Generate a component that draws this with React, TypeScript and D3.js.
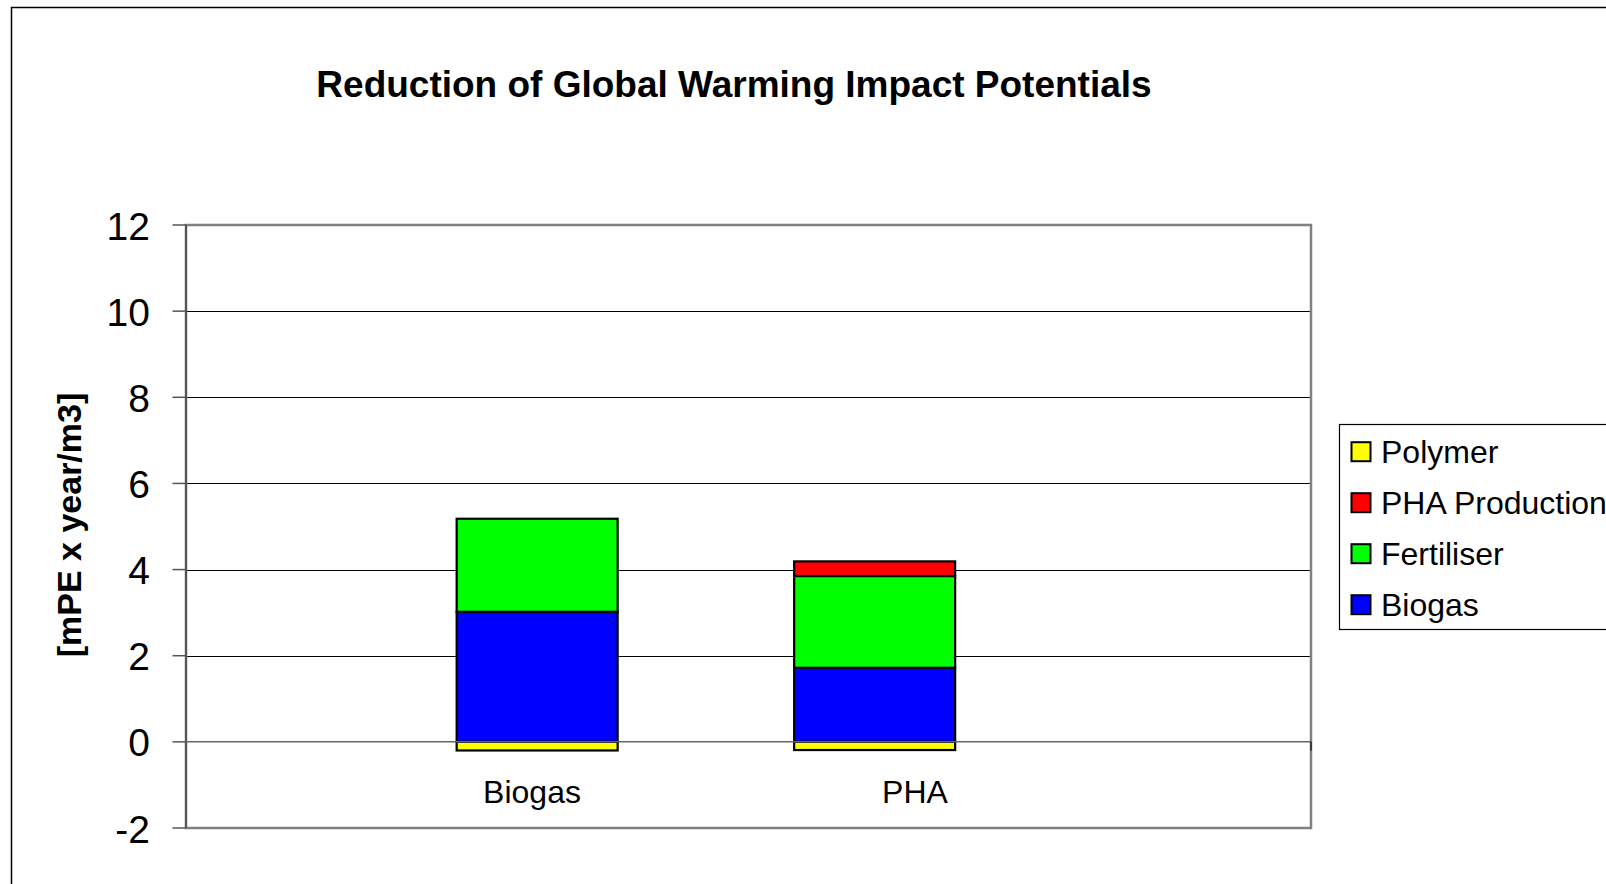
import React from "react";
import * as d3 from "d3";

// Categories on the x axis
const categories = ["Biogas", "PHA"];

// Series (stacking order from the zero line outward)
const seriesKeys = ["Biogas", "Fertiliser", "PHA Production", "Polymer"];

// Values per series, one entry per category
const biogasValues = [3.02, 1.72];
const fertiliserValues = [2.16, 2.13];
const phaProductionValues = [0, 0.34];
const polymerValues = [-0.2, -0.19];

// Y axis ticks
const yTicks = [-2, 0, 2, 4, 6, 8, 10, 12];

// Legend order (top to bottom)
const legendOrder = ["Polymer", "PHA Production", "Fertiliser", "Biogas"];

const colors: Record<string, string> = {
  Biogas: "#0000ff",
  Fertiliser: "#00ff00",
  "PHA Production": "#ff0000",
  Polymer: "#ffff00",
};

const W = 1606;
const H = 884;
const FONT = "'Liberation Sans', Arial, Helvetica, sans-serif";

const plot = { left: 186, right: 1311, top: 225, bottom: 828 };

export default function App() {
  const rows = categories.map((c, i) => ({
    category: c,
    Biogas: biogasValues[i],
    Fertiliser: fertiliserValues[i],
    "PHA Production": phaProductionValues[i],
    Polymer: polymerValues[i],
  }));

  const stacked = d3
    .stack<any>()
    .keys(seriesKeys)
    .offset(d3.stackOffsetDiverging)(rows);

  const y = d3.scaleLinear().domain([-2, 12]).range([plot.bottom, plot.top]);

  // label positions
  const xLabel = d3.scaleBand<string>().domain(categories).range([340.5, 1106.5]);
  // bar positions
  const xBar = d3
    .scaleBand<string>()
    .domain(categories)
    .range([368.4, 1043.4])
    .paddingInner(0.523)
    .paddingOuter(0.2615);

  const legend = { x: 1339.5, y: 424.5, h: 205, rowStep: 51 };

  return (
    <svg
      width={W}
      height={H}
      style={{ position: "absolute", left: 0, top: 0, background: "#fff" }}
      fontFamily={FONT}
    >
      <rect x={0} y={0} width={W} height={H} fill="#fff" />
      {/* chart frame */}
      <rect x={11.5} y={7.5} width={W + 20} height={H + 20} fill="#fff" stroke="#000" strokeWidth={1.5} />

      {/* title */}
      <text x={734} y={96.5} textAnchor="middle" fontSize={37} fontWeight="bold" fill="#000">
        Reduction of Global Warming Impact Potentials
      </text>

      {/* plot area */}
      <rect
        x={plot.left}
        y={plot.top}
        width={plot.right - plot.left}
        height={plot.bottom - plot.top}
        fill="#fff"
      />

      {/* gridlines */}
      {yTicks
        .filter((t) => t !== 0 && t !== -2 && t !== 12)
        .map((t) => (
          <line
            key={"g" + t}
            x1={plot.left}
            x2={plot.right}
            y1={Math.round(y(t)) + 0.5}
            y2={Math.round(y(t)) + 0.5}
            stroke="#000"
            strokeWidth={1}
          />
        ))}

      {/* plot border */}
      <rect
        x={plot.left}
        y={plot.top}
        width={plot.right - plot.left}
        height={plot.bottom - plot.top}
        fill="none"
        stroke="#808080"
        strokeWidth={2.5}
      />

      {/* y axis line and ticks */}
      <line x1={plot.left} x2={plot.left} y1={plot.top} y2={plot.bottom} stroke="#555" strokeWidth={2} />
      {yTicks.map((t) => (
        <g key={"t" + t}>
          <line x1={172.5} x2={plot.left} y1={y(t)} y2={y(t)} stroke="#555" strokeWidth={1.5} />
          <text x={150} y={y(t) + 14.5} textAnchor="end" fontSize={39} fill="#000">
            {t}
          </text>
        </g>
      ))}

      {/* bars */}
      {stacked.map((s) => (
        <g key={s.key} fill={colors[s.key]} stroke="#000" strokeWidth={2.2}>
          {s.map((d, i) => {
            const y0 = y(d[0]);
            const y1 = y(d[1]);
            const h = Math.abs(y0 - y1);
            if (h < 0.01) return null;
            return (
              <rect
                key={i}
                x={xBar(categories[i])!}
                y={Math.min(y0, y1)}
                width={xBar.bandwidth()}
                height={h}
              />
            );
          })}
        </g>
      ))}

      {/* category axis at zero */}
      <line x1={plot.left} x2={plot.right} y1={y(0)} y2={y(0)} stroke="#666" strokeWidth={1.5} />
      <line x1={plot.right} x2={plot.right} y1={y(0)} y2={y(0) + 9} stroke="#222" strokeWidth={1.5} />

      {/* category labels */}
      {categories.map((c) => (
        <text
          key={"c" + c}
          x={xLabel(c)! + xLabel.bandwidth() / 2}
          y={802.5}
          textAnchor="middle"
          fontSize={32}
          fill="#000"
        >
          {c}
        </text>
      ))}

      {/* y axis title */}
      <text
        transform={`translate(81, 525) rotate(-90)`}
        textAnchor="middle"
        fontSize={34}
        fontWeight="bold"
        fill="#000"
      >
        [mPE x year/m3]
      </text>

      {/* legend */}
      <rect
        x={legend.x}
        y={legend.y}
        width={W}
        height={legend.h}
        fill="#fff"
        stroke="#000"
        strokeWidth={1.2}
      />
      {legendOrder.map((k, i) => {
        const cy = 451.7 + i * legend.rowStep;
        return (
          <g key={"l" + k}>
            <rect x={1351.5} y={cy - 9.5} width={19} height={19} fill={colors[k]} stroke="#000" strokeWidth={2} />
            <text x={1381} y={cy + 11.5} fontSize={32} fill="#000">
              {k}
            </text>
          </g>
        );
      })}
    </svg>
  );
}
